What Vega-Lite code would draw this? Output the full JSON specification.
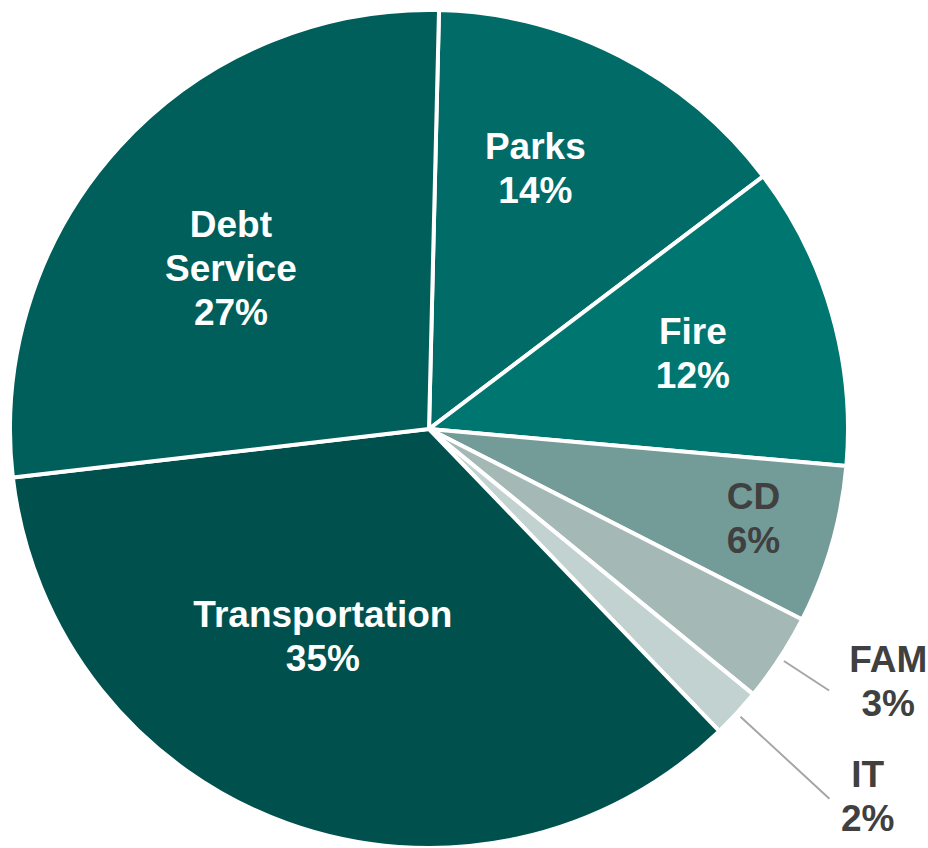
{
  "$schema": "https://vega.github.io/schema/vega-lite/v6.json",
  "width": 858,
  "height": 858,
  "autosize": "none",
  "padding": {"left": 0, "top": 0, "right": 70, "bottom": 0},
  "background": "white",
  "config": {"view": {"stroke": null}},
  "data": {"values": [
    {"category": "Parks", "value": 14.3, "rank": 1, "label": "Parks\n14%"},
    {"category": "Fire", "value": 11.7, "rank": 2, "label": "Fire\n12%"},
    {"category": "CD", "value": 6.1, "rank": 3, "label": "CD\n6%"},
    {"category": "FAM", "value": 3.4, "rank": 4, "label": "FAM\n3%"},
    {"category": "IT", "value": 1.9, "rank": 5, "label": "IT\n2%"},
    {"category": "Transportation", "value": 35.3, "rank": 6, "label": "Transportation\n35%"},
    {"category": "Debt Service", "value": 27.2, "rank": 7, "label": "Debt\nService\n27%"}
  ]},
  "encoding": {
    "theta": {"field": "value", "type": "quantitative", "stack": true, "scale": {"range": [0.0239, 6.3071]}},
    "order": {"field": "rank", "type": "quantitative"}
  },
  "layer": [
    {
      "mark": {"type": "arc", "radius": 419, "stroke": "white", "strokeWidth": 4},
      "encoding": {
        "color": {"field": "category", "type": "nominal", "legend": null,
          "scale": {"domain": ["Parks", "Fire", "CD", "FAM", "IT", "Transportation", "Debt Service"],
                    "range": ["#016B68", "#007671", "#739B98", "#A4B9B6", "#C2D2D0", "#00514E", "#005F5B"]}}
      }
    },
    {
      "mark": {"type": "arc", "radius": 478, "radius2": 424, "padAngle": 3, "fill": null, "stroke": "#A6A6A6", "strokeWidth": 2},
      "encoding": {"strokeOpacity": {"condition": {"test": "datum.category === 'FAM'", "value": 1}, "value": 0}}
    },
    {
      "mark": {"type": "arc", "radius": 545, "radius2": 424, "padAngle": 3, "fill": null, "stroke": "#A6A6A6", "strokeWidth": 2},
      "encoding": {"strokeOpacity": {"condition": {"test": "datum.category === 'IT'", "value": 1}, "value": 0}}
    },
    {
      "mark": {"type": "text", "radius": 280, "thetaOffset": -0.084, "dy": -22, "font": "Liberation Sans", "fontWeight": "bold", "fontSize": 37, "lineHeight": 44, "lineBreak": "\n", "align": "center", "baseline": "middle", "fill": "white"},
      "encoding": {"text": {"condition": {"test": "datum.category === 'Parks'", "field": "label"}, "value": ""}}
    },
    {
      "mark": {"type": "text", "radius": 274, "thetaOffset": 0.007, "dy": -22, "font": "Liberation Sans", "fontWeight": "bold", "fontSize": 37, "lineHeight": 44, "lineBreak": "\n", "align": "center", "baseline": "middle", "fill": "white"},
      "encoding": {"text": {"condition": {"test": "datum.category === 'Fire'", "field": "label"}, "value": ""}}
    },
    {
      "mark": {"type": "text", "radius": 337, "thetaOffset": -0.007, "dy": -22, "font": "Liberation Sans", "fontWeight": "bold", "fontSize": 37, "lineHeight": 44, "lineBreak": "\n", "align": "center", "baseline": "middle", "fill": "#404040"},
      "encoding": {"text": {"condition": {"test": "datum.category === 'CD'", "field": "label"}, "value": ""}}
    },
    {
      "mark": {"type": "text", "radius": 525, "thetaOffset": -0.073, "dy": -22, "font": "Liberation Sans", "fontWeight": "bold", "fontSize": 37, "lineHeight": 44, "lineBreak": "\n", "align": "center", "baseline": "middle", "fill": "#404040"},
      "encoding": {"text": {"condition": {"test": "datum.category === 'FAM'", "field": "label"}, "value": ""}}
    },
    {
      "mark": {"type": "text", "radius": 573, "thetaOffset": -0.047, "dy": -22, "font": "Liberation Sans", "fontWeight": "bold", "fontSize": 37, "lineHeight": 44, "lineBreak": "\n", "align": "center", "baseline": "middle", "fill": "#404040"},
      "encoding": {"text": {"condition": {"test": "datum.category === 'IT'", "field": "label"}, "value": ""}}
    },
    {
      "mark": {"type": "text", "radius": 234, "thetaOffset": 0.126, "dy": -22, "font": "Liberation Sans", "fontWeight": "bold", "fontSize": 37, "lineHeight": 44, "lineBreak": "\n", "align": "center", "baseline": "middle", "fill": "white"},
      "encoding": {"text": {"condition": {"test": "datum.category === 'Transportation'", "field": "label"}, "value": ""}}
    },
    {
      "mark": {"type": "text", "radius": 254, "thetaOffset": -0.063, "dy": -44, "font": "Liberation Sans", "fontWeight": "bold", "fontSize": 37, "lineHeight": 44, "lineBreak": "\n", "align": "center", "baseline": "middle", "fill": "white"},
      "encoding": {"text": {"condition": {"test": "datum.category === 'Debt Service'", "field": "label"}, "value": ""}}
    }
  ]
}
